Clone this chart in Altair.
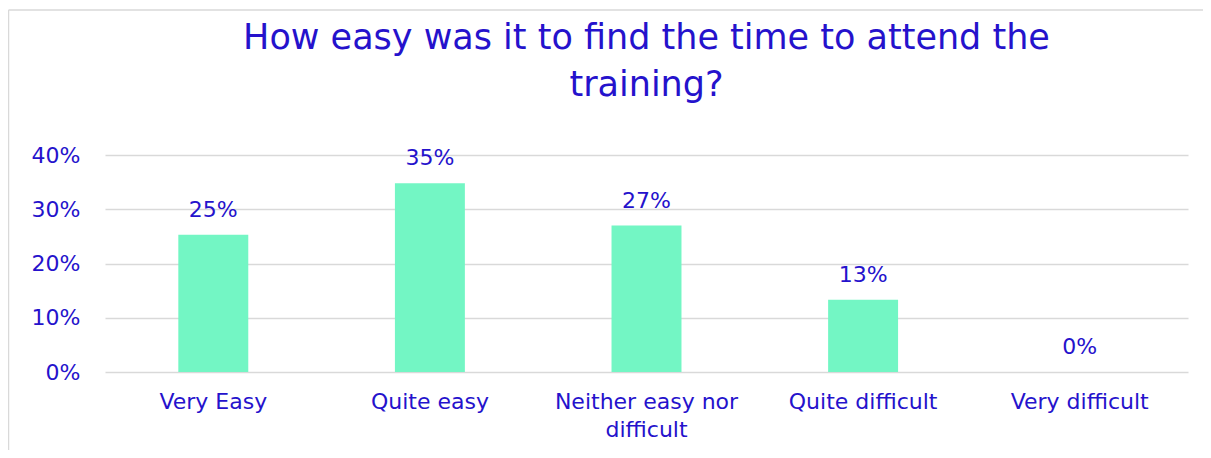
import altair as alt
import pandas as pd

categories = ["Very Easy", "Quite easy", "Neither easy nor difficult", "Quite difficult", "Very difficult"]
values = [0.253, 0.348, 0.270, 0.133, 0.0]
labels = ["25%", "35%", "27%", "13%", "0%"]
y_ticks = [0, 0.1, 0.2, 0.3, 0.4]
title_lines = ["How easy was it to find the time to attend the", "training?"]

BLUE = "#2512CC"
GREEN = "#73F6C4"
GRID = "#D9D9D9"
FONT = "DejaVu Sans"
FS = 22

df = pd.DataFrame({"category": categories, "value": values, "label": labels})

x = alt.X(
    "category:N", sort=categories, title=None,
    scale=alt.Scale(paddingInner=0.677, paddingOuter=0.3385),
    axis=alt.Axis(
        labelAngle=0, labelFont=FONT, labelFontSize=FS, labelColor=BLUE,
        labelPadding=19, labelLineHeight=28, ticks=False, domain=False, grid=False,
        labelLimit=300,
        labelExpr="datum.label == 'Neither easy nor difficult' ? ['Neither easy nor', 'difficult'] : datum.label",
    ),
)
y = alt.Y(
    "value:Q", title=None,
    scale=alt.Scale(domain=[0, 0.4], nice=False),
    axis=alt.Axis(
        values=y_ticks, format=".0%", labelFont=FONT, labelFontSize=FS, labelColor=BLUE,
        labelPadding=25, ticks=False, domain=False, gridColor=GRID, gridWidth=1.5,
    ),
)

base = alt.Chart(df)
bars = base.mark_bar(color=GREEN).encode(x=x, y=y)
text = base.mark_text(dy=-18, baseline="alphabetic", fontSize=FS, font=FONT, color=BLUE).encode(
    x=x, y=y, text="label:N"
)

frame_df = pd.DataFrame({"k": [0]})
left_border = alt.Chart(frame_df).mark_rule(color=GRID, strokeWidth=1.5).encode(
    x=alt.value(-96.5), y=alt.value(-145), y2=alt.value(300)
)
top_border = alt.Chart(frame_df).mark_rule(color=GRID, strokeWidth=1.5).encode(
    x=alt.value(-96.5), x2=alt.value(1110), y=alt.value(-145)
)

chart = alt.layer(bars, text, left_border, top_border).properties(
    width=1083,
    height=217,
    autosize=alt.AutoSizeParams(type="none"),
    padding={"left": 97, "top": 147, "right": 15, "bottom": 78},
    title=alt.TitleParams(
        title_lines, font=FONT, fontSize=35, fontWeight="normal", color=BLUE,
        lineHeight=47, anchor="middle", offset=-94,
    ),
).configure(background="white").configure_view(stroke=None)

chart.save("out.html", embed_options={"renderer": "svg", "actions": False})
